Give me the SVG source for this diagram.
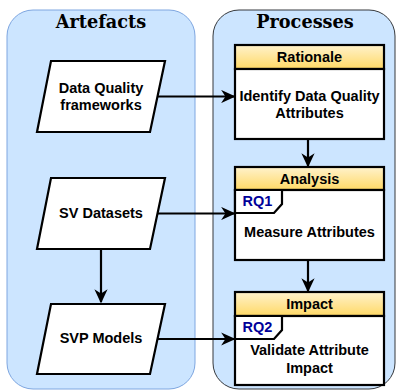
<svg xmlns="http://www.w3.org/2000/svg" width="398" height="391" viewBox="0 0 398 391">
<defs>
<linearGradient id="hdr" x1="0" y1="0" x2="0" y2="1">
<stop offset="0" stop-color="#fff2cc"/>
<stop offset="1" stop-color="#ffd966"/>
</linearGradient>
<marker id="arr" viewBox="0 0 10 10" refX="9" refY="5" markerWidth="6.5" markerHeight="6" markerUnits="strokeWidth" orient="auto" preserveAspectRatio="none">
<path d="M0,0 L10,5 L0,10 L3,5 Z" fill="#000"/>
</marker>
</defs>
<style>
.title{font-family:"DejaVu Serif",serif;font-weight:bold;font-size:17.7px;fill:#000;text-anchor:middle}
.t{font-family:"Liberation Sans",Arial,sans-serif;font-weight:bold;font-size:14.5px;fill:#000;text-anchor:middle}
.rq{font-family:"Liberation Sans",Arial,sans-serif;font-weight:bold;font-size:14.5px;fill:#000099;text-anchor:middle}
.shape{fill:#fff;stroke:#000;stroke-width:2.2}
.head{fill:url(#hdr);stroke:#000;stroke-width:2.2}
.conn{fill:none;stroke:#000;stroke-width:2.2;marker-end:url(#arr)}
</style>
<g id="panel-artefacts">
<rect x="7" y="10" width="188" height="379" rx="26" ry="26" fill="#cce5ff" stroke="#7ea6e0" stroke-width="1"/>
<text class="title" x="101" y="28">Artefacts</text>
</g>
<g id="panel-processes">
<rect x="213" y="10" width="182" height="379" rx="26" ry="26" fill="#cce5ff" stroke="#36393d" stroke-width="1"/>
<text class="title" x="305" y="28">Processes</text>
</g>
<g id="dq-frameworks">
<polygon class="shape" points="51,61 165,61 150,132 37,132"/>
<text class="t" x="101" y="93">Data Quality</text>
<text class="t" x="101" y="110">frameworks</text>
</g>
<g id="sv-datasets">
<polygon class="shape" points="51,178 165,178 150,249 37,249"/>
<text class="t" x="101" y="218">SV Datasets</text>
</g>
<g id="svp-models">
<polygon class="shape" points="51,304 165,304 150,374 37,374"/>
<text class="t" x="101" y="343">SVP Models</text>
</g>
<g id="rationale">
<rect class="head" x="235" y="45" width="149" height="24"/>
<text class="t" x="309.5" y="62">Rationale</text>
<rect class="shape" x="235" y="69" width="149" height="70"/>
<text class="t" x="309.5" y="101">Identify Data Quality</text>
<text class="t" x="309.5" y="118">Attributes</text>
</g>
<g id="analysis">
<rect class="head" x="235" y="167" width="149" height="23"/>
<text class="t" x="309.5" y="184">Analysis</text>
<rect class="shape" x="235" y="190" width="149" height="70"/>
<polygon class="shape" points="235,190 282,190 282,204 274,213 235,213"/>
<text class="rq" x="257.5" y="206">RQ1</text>
<text class="t" x="309.5" y="237">Measure Attributes</text>
</g>
<g id="impact">
<rect class="head" x="235" y="292" width="149" height="24"/>
<text class="t" x="309.5" y="309">Impact</text>
<rect class="shape" x="235" y="316" width="149" height="69"/>
<polygon class="shape" points="235,316 282,316 282,330 274,339 235,339"/>
<text class="rq" x="257.5" y="332">RQ2</text>
<text class="t" x="309.5" y="355">Validate Attribute</text>
<text class="t" x="309.5" y="373">Impact</text>
</g>
<g id="connectors">
<line class="conn" x1="158" y1="96.5" x2="234" y2="96.5"/>
<line class="conn" x1="158" y1="213.5" x2="234" y2="213.5"/>
<line class="conn" x1="158" y1="339" x2="234" y2="339"/>
<line class="conn" x1="101" y1="249" x2="101" y2="302"/>
<line class="conn" x1="308" y1="139" x2="308" y2="166"/>
<line class="conn" x1="308" y1="260" x2="308" y2="291"/>
</g>
</svg>
